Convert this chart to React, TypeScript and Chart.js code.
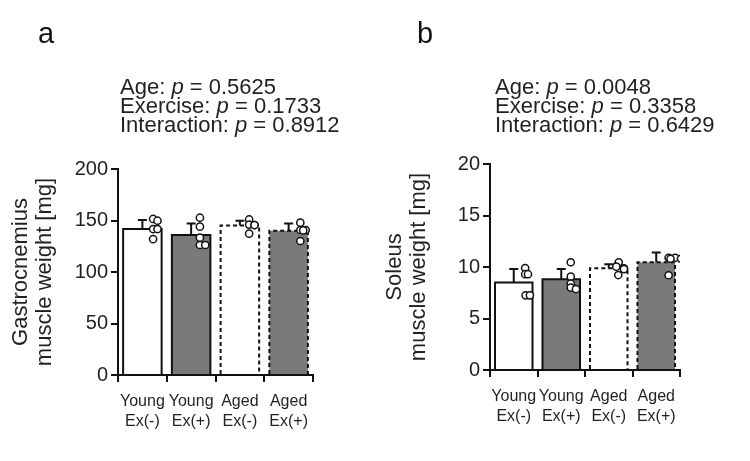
import React, { useEffect, useRef } from "react";
import { Chart, registerables } from "chart.js";
Chart.register(...registerables);

// ---------- data ----------
const categories = [["Young", "Ex(-)"], ["Young", "Ex(+)"], ["Aged", "Ex(-)"], ["Aged", "Ex(+)"]];
const barColors = ["#ffffff", "#7a7a7a", "#ffffff", "#7a7a7a"];
const dashedBorder = [false, false, true, true];

const gastroMeans = [141.7, 136, 145.2, 140];
const gastroSD = [8.8, 11, 4.6, 7];
const gastroDots = [
  [151.5, 149.8, 141.7, 141.7, 131.9],
  [152.7, 144, 133.3, 126.2, 126.2],
  [151, 146, 145.6, 145.6, 137.2],
  [147.9, 140.8, 140.8, 140.4, 130.1],
];
const gastroJitter = [
  [0.22, 0.31, 0.22, 0.31, 0.22],
  [0.18, 0.18, 0.18, 0.18, 0.29],
  [0.19, 0.19, 0.3, 0.3, 0.19],
  [0.24, 0.24, 0.35, 0.3, 0.24],
];
const gastroTicks = { max: 200, step: 50 };
const gastroTitle = ["Gastrocnemius", "muscle weight [mg]"];
const gastroStats = [["Age: ", "0.5625"], ["Exercise: ", "0.1733"], ["Interaction: ", "0.8912"]];

const soleusMeans = [8.5, 8.8, 9.87, 10.46];
const soleusSD = [1.3, 1.0, 0.4, 0.94];
const soleusDots = [
  [9.9, 9.3, 9.3, 7.25, 7.25],
  [10.46, 9.06, 8.4, 8.0, 7.86],
  [10.46, 10.03, 9.87, 9.8, 9.22],
  [10.9, 10.9, 10.8, 10.8, 9.2],
];
const soleusJitter = [
  [0.24, 0.24, 0.3, 0.25, 0.34],
  [0.2, 0.2, 0.2, 0.2, 0.31],
  [0.21, 0.16, 0.32, 0.32, 0.2],
  [0.26, 0.4, 0.52, 0.3, 0.26],
];
const soleusTicks = { max: 20, step: 5 };
const soleusTitle = ["Soleus", "muscle weight [mg]"];
const soleusStats = [["Age: ", "0.0048"], ["Exercise: ", "0.3358"], ["Interaction: ", "0.6429"]];

// ---------- style ----------
const FONT = "'Liberation Sans', Arial, Helvetica, sans-serif";
const INK = "#231f20";

function makeDecor(means: number[], sd: number[], dashed: boolean[]) {
  return {
    id: "barDecor",
    afterDatasetDraw(chart: any, args: any) {
      if (args.index !== 0) return;
      const meta = chart.getDatasetMeta(0);
      const yScale = chart.scales.y;
      const ctx = chart.ctx;
      ctx.save();
      ctx.strokeStyle = "#111";
      ctx.lineWidth = 2;
      meta.data.forEach((el: any, i: number) => {
        const { x, y, base, width } = el.getProps(["x", "y", "base", "width"], true);
        const l = x - width / 2;
        const r = x + width / 2;
        const yt = yScale.getPixelForValue(means[i] + sd[i]);
        ctx.setLineDash([]);
        ctx.beginPath();
        ctx.moveTo(x, y);
        ctx.lineTo(x, yt);
        ctx.moveTo(x - 4.5, yt);
        ctx.lineTo(x + 4.5, yt);
        ctx.stroke();
        ctx.setLineDash(dashed[i] ? [4, 3] : []);
        ctx.beginPath();
        ctx.moveTo(l, base);
        ctx.lineTo(l, y);
        ctx.lineTo(r, y);
        ctx.lineTo(r, base);
        ctx.stroke();
      });
      ctx.restore();
    },
  };
}

type PanelProps = {
  left: number;
  means: number[];
  sd: number[];
  dots: number[][];
  jitter: number[][];
  ticks: { max: number; step: number };
  title: string[];
  yAxisWidth: number;
  padRight: number;
  padTop: number;
  padBottom: number;
  titlePad: number;
};

function Panel(p: PanelProps) {
  const ref = useRef<HTMLCanvasElement>(null);
  useEffect(() => {
    if (!ref.current) return;
    const points: { x: number; y: number }[] = [];
    p.dots.forEach((grp, i) =>
      grp.forEach((v, j) => points.push({ x: i + p.jitter[i][j], y: v }))
    );
    const chart = new Chart(ref.current, {
      type: "bar",
      data: {
        labels: categories as any,
        datasets: [
          {
            type: "bar",
            data: p.means,
            backgroundColor: barColors,
            borderWidth: 0,
            barPercentage: 0.79,
            categoryPercentage: 1,
            grouped: false,
            order: 1,
          } as any,
          {
            type: "scatter",
            data: points,
            xAxisID: "xd",
            yAxisID: "y",
            pointRadius: 3.6,
            pointBorderWidth: 1.5,
            pointBackgroundColor: "#ffffff",
            pointBorderColor: "#111",
            showLine: false,
            order: 0,
          } as any,
        ],
      },
      options: {
        responsive: false,
        animation: false,
        devicePixelRatio: 1,
        layout: { padding: { left: 0, right: p.padRight, top: p.padTop, bottom: p.padBottom } },
        plugins: { legend: { display: false }, tooltip: { enabled: false } },
        scales: {
          x: {
            type: "category",
            offset: true,
            border: { display: true, color: "#111", width: 2 },
            grid: { display: true, drawOnChartArea: false, drawTicks: true, tickLength: 7, color: "#111", lineWidth: 2, offset: true },
            ticks: { color: INK, padding: 10, font: { family: FONT, size: 16, lineHeight: 1.25 }, maxRotation: 0, autoSkip: false },
            afterFit: (s: any) => { s.height = 60; },
          },
          xd: { type: "linear", axis: "x", position: "bottom", display: false, offset: false, grid: { offset: false }, min: -0.5, max: 3.5 },
          y: {
            type: "linear",
            min: 0,
            max: p.ticks.max,
            border: { display: true, color: "#111", width: 2 },
            grid: { display: true, drawOnChartArea: false, drawTicks: true, tickLength: 7, color: "#111", lineWidth: 2 },
            ticks: { stepSize: p.ticks.step, color: INK, padding: 3, font: { family: FONT, size: 20 } },
            title: {
              display: true,
              text: p.title,
              color: INK,
              padding: { top: p.titlePad, bottom: 0 },
              font: { family: FONT, size: 22, lineHeight: 1.1 },
            },
            afterFit: (s: any) => { s.width = p.yAxisWidth; },
          },
        },
      } as any,
      plugins: [makeDecor(p.means, p.sd, dashedBorder)],
    });
    return () => chart.destroy();
  }, []);
  return (
    <canvas
      ref={ref}
      width={375}
      height={461}
      style={{ position: "absolute", left: p.left, top: 0, width: 375, height: 461 }}
    />
  );
}

function Stats({ left, lines }: { left: number; lines: string[][] }) {
  return (
    <div
      style={{
        position: "absolute",
        left,
        top: 77,
        fontFamily: FONT,
        fontSize: 22,
        lineHeight: "19px",
        color: INK,
        whiteSpace: "nowrap",
      }}
    >
      {lines.map((l, i) => (
        <div key={i}>
          {l[0]}
          <i>p</i> = {l[1]}
        </div>
      ))}
    </div>
  );
}

function Letter({ left, text }: { left: number; text: string }) {
  return (
    <div
      style={{
        position: "absolute",
        left,
        top: 16,
        fontFamily: FONT,
        fontSize: 29,
        lineHeight: "34px",
        color: "#111",
      }}
    >
      {text}
    </div>
  );
}

export default function App() {
  return (
    <div style={{ position: "absolute", left: 0, top: 0, width: 750, height: 461, background: "#fff", overflow: "hidden" }}>
      <Panel
        left={0}
        means={gastroMeans}
        sd={gastroSD}
        dots={gastroDots}
        jitter={gastroJitter}
        ticks={gastroTicks}
        title={gastroTitle}
        yAxisWidth={118}
        padRight={62}
        padTop={169}
        padBottom={26}
        titlePad={9}
      />
      <Panel
        left={375}
        means={soleusMeans}
        sd={soleusSD}
        dots={soleusDots}
        jitter={soleusJitter}
        ticks={soleusTicks}
        title={soleusTitle}
        yAxisWidth={115}
        padRight={70}
        padTop={164}
        padBottom={31}
        titlePad={8}
      />
      <Letter left={38} text="a" />
      <Letter left={417} text="b" />
      <Stats left={120} lines={gastroStats} />
      <Stats left={495} lines={soleusStats} />
    </div>
  );
}
